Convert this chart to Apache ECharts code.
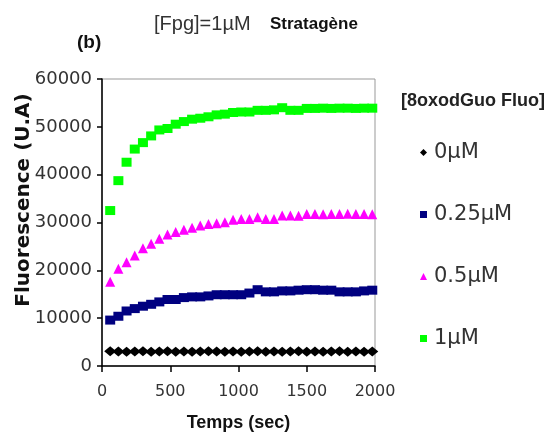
<!DOCTYPE html>
<html>
<head>
<meta charset="utf-8">
<script src="https://cdn.jsdelivr.net/npm/echarts@6/dist/echarts.min.js"></script>
<style>html,body{margin:0;padding:0;background:#fff;}#c{width:552px;height:438px;}</style>
</head>
<body>
<div id="c"></div>
<script>
var times = [60,120,180,240,300,360,420,480,540,600,660,720,780,840,900,960,1020,1080,1140,1200,1260,1320,1380,1440,1500,1560,1620,1680,1740,1800,1860,1920,1980];
var s0 = [3100,3050,3000,3050,3100,3000,3050,3100,3000,3050,3000,3050,3100,3050,3000,3050,3000,3050,3100,3000,3050,3000,3050,3100,3000,3050,3000,3050,3100,3000,3050,3000,3050];
var s025 = [9600,10400,11500,12000,12500,12900,13400,13900,13900,14300,14450,14450,14650,14900,14900,14900,14900,15250,15950,15500,15500,15700,15700,15850,15950,15950,15850,15850,15500,15500,15500,15700,15850];
var s05 = [17600,20350,21700,23100,24600,25550,26600,27500,28000,28500,28900,29350,29700,29850,30050,30550,30750,30750,31100,30750,30750,31450,31450,31400,31800,31800,31750,31800,31800,31850,31800,31800,31750];
var s1 = [32500,38750,42600,45350,46700,48100,49350,49650,50550,51100,51600,51800,52100,52500,52650,53000,53100,53100,53450,53450,53550,54000,53450,53450,53850,53850,53900,53850,53900,53900,53850,53900,53900];
var seriesNames = ['0µM','0.25µM','0.5µM','1µM'];
var xTicks = [0,500,1000,1500,2000];
var yTicks = [0,10000,20000,30000,40000,50000,60000];

function pairs(v){ return times.map(function(t,i){ return [t, v[i]]; }); }

var chart = echarts.init(document.getElementById('c'), null, {renderer:'canvas'});
var SANS = 'Liberation Sans, Arial, sans-serif';
var DV = 'DejaVu Sans, sans-serif';
chart.setOption({
  animation: false,
  backgroundColor: '#fff',
  title: [
    {text:'(b)', left:72, top:28, textStyle:{fontFamily:SANS, fontWeight:'bold', fontSize:19, color:'#111'}},
    {text:'[Fpg]=1µM', left:149, top:9, textStyle:{fontFamily:SANS, fontWeight:'normal', fontSize:20, color:'#333'}},
    {text:'Stratagène', left:265, top:11, textStyle:{fontFamily:SANS, fontWeight:'bold', fontSize:17, color:'#111'}},
    {text:'[8oxodGuo Fluo]', left:396, top:87, textStyle:{fontFamily:SANS, fontWeight:'bold', fontSize:18, color:'#222'}}
  ],
  legend: {
    orient:'vertical', left:415, top:137,
    itemWidth:7, itemHeight:7, itemGap:41,
    textStyle:{fontFamily:DV, fontSize:21, color:'#333', padding:[0,0,0,2]},
    data:[
      {name:seriesNames[0], icon:'diamond'},
      {name:seriesNames[1], icon:'rect'},
      {name:seriesNames[2], icon:'triangle'},
      {name:seriesNames[3], icon:'rect'}
    ]
  },
  grid: {left:102, right:177, top:79, bottom:72, show:true, borderColor:'#999', borderWidth:1, backgroundColor:'transparent'},
  xAxis: {
    type:'value', min:xTicks[0], max:xTicks[xTicks.length-1], interval:500,
    name:'Temps (sec)', nameLocation:'middle', nameGap:48,
    nameTextStyle:{fontFamily:SANS, fontWeight:'bold', fontSize:18, color:'#111'},
    axisLine:{show:true, lineStyle:{color:'#000', width:1.5}},
    axisTick:{show:true, inside:false, length:6, lineStyle:{color:'#000', width:1.5}},
    axisLabel:{fontFamily:DV, fontSize:16, color:'#333', margin:18, formatter:function(v){return String(v);}},
    splitLine:{show:false}
  },
  yAxis: {
    type:'value', min:yTicks[0], max:yTicks[yTicks.length-1], interval:10000,
    axisLine:{show:true, lineStyle:{color:'#000', width:1.5}},
    axisTick:{show:true, inside:false, length:5, lineStyle:{color:'#000', width:1.5}},
    axisLabel:{fontFamily:DV, fontSize:18, color:'#333', margin:10, formatter:function(v){return String(v);}},
    splitLine:{show:false}
  },
  graphic: [
    {type:'text', x:24, y:200, rotation:Math.PI/2,
     style:{text:'Fluorescence (U.A)', fontFamily:'DejaVu Sans, sans-serif', fontWeight:'bold', fontSize:20, fill:'#111', textAlign:'center', textVerticalAlign:'middle'}}
  ],
  series: [
    {name:seriesNames[0], type:'scatter', symbol:'diamond', symbolSize:[12,10], itemStyle:{color:'#000', opacity:1}, data:pairs(s0), z:3},
    {name:seriesNames[1], type:'scatter', symbol:'rect', symbolSize:[10,9], itemStyle:{color:'#000080', opacity:1}, data:pairs(s025), z:3},
    {name:seriesNames[2], type:'scatter', symbol:'triangle', symbolSize:[10,10], itemStyle:{color:'#ff00ff', opacity:1}, data:pairs(s05), z:3},
    {name:seriesNames[3], type:'scatter', symbol:'rect', symbolSize:[10,9], itemStyle:{color:'#00ff00', opacity:1}, data:pairs(s1), z:3}
  ]
});
</script>
</body>
</html>
